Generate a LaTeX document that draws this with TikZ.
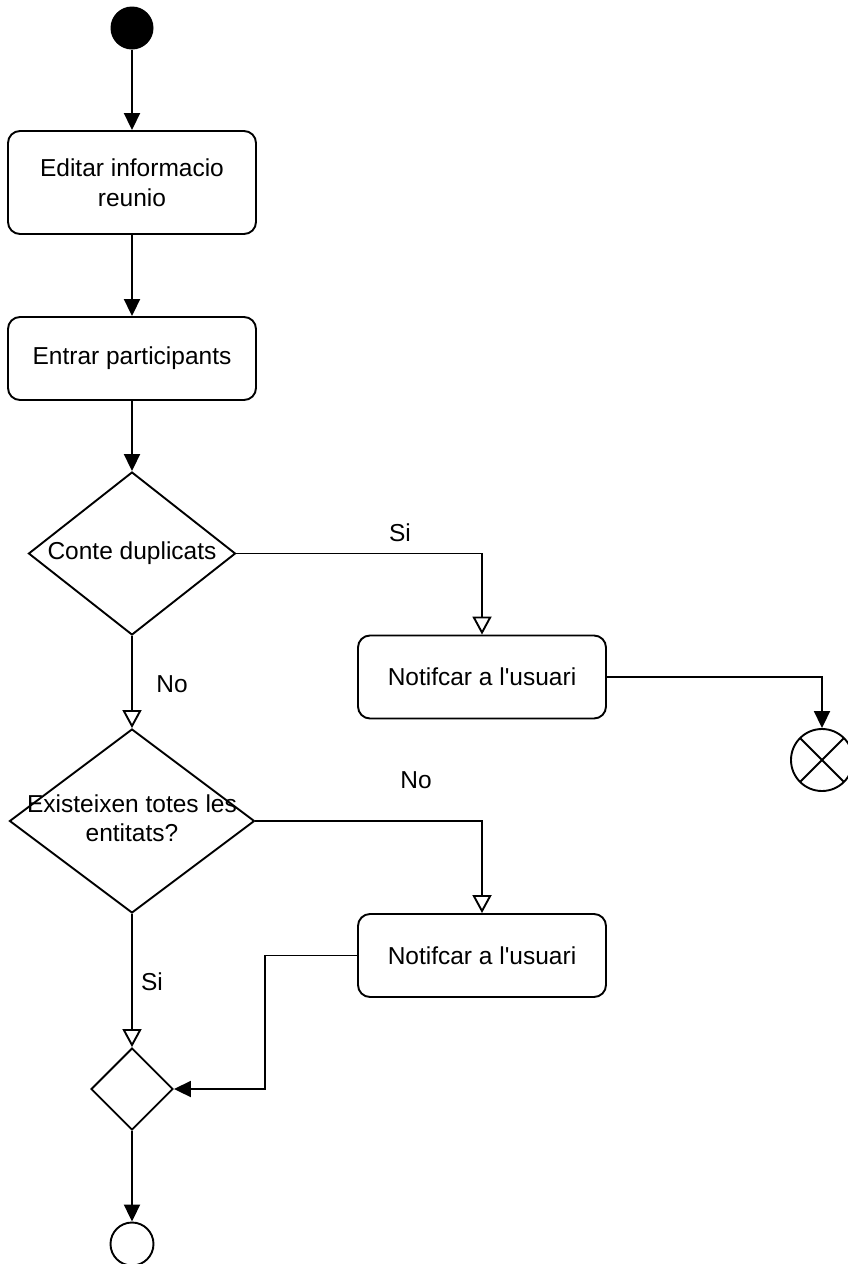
\documentclass[tikz,border=0pt]{standalone}
\usepackage{fontspec}
\setmainfont{Liberation Sans}
\usetikzlibrary{arrows.meta,shapes.geometric}
\begin{document}
\begin{tikzpicture}[x=1pt,y=-1pt,
  every node/.style={font=\fontsize{24.5}{29.5}\selectfont},
  line/.style={line width=1.9pt,draw=black},
  actbox/.style={line, rectangle, rounded corners=12pt, minimum width=248pt, align=center, inner sep=0pt},
  decbox/.style={line, diamond, inner sep=0pt},
  txt/.style={align=center, inner sep=0pt},
  flow/.style={line, -{Triangle[length=17pt,width=16pt]}},
  oflow/.style={line, -{Triangle[open,length=18pt,width=19pt,fill=white]}}
]
\useasboundingbox (0,0) rectangle (847,1264);

\node[circle, fill=black, minimum size=43pt, inner sep=0pt] (start) at (132,28) {};
\node[actbox, minimum height=103pt] (b1) at (132,182.5) {Editar informacio\\reunio};
\node[actbox, minimum height=83pt] (b2) at (132,358.5) {Entrar participants};

\node[decbox, minimum width=207pt, minimum height=163pt] (d1) at (132,553.5) {};
\node[txt] (t1) at (132,553) {Conte duplicats};

\node[actbox, minimum height=83pt] (b3) at (482,677) {Notifcar a l\textquotesingle usuari};

\node[line, circle, minimum size=62pt, inner sep=0pt,
  path picture={\draw[line width=1.9pt] (path picture bounding box.north west) -- (path picture bounding box.south east)
                (path picture bounding box.north east) -- (path picture bounding box.south west);}] (xend) at (822,760) {};

\node[decbox, minimum width=245pt, minimum height=184pt] (d2) at (132,821) {};
\node[txt] (t2) at (132,818) {Existeixen totes les\\entitats?};

\node[actbox, minimum height=83pt] (b4) at (482,955.5) {Notifcar a l\textquotesingle usuari};

\node[decbox, minimum width=82pt, minimum height=82pt] (d3) at (132,1089) {};
\node[line, circle, minimum size=43pt, inner sep=0pt] (fend) at (132,1244) {};

\coordinate (bend) at (265,1020);

\draw[flow] (start) -- (b1);
\draw[flow] (b1) -- (b2);
\draw[flow] (b2.south) -- (d1.north);
\draw[oflow] (d1.east) -| (b3.north);
\draw[flow] (b3.east) -| (xend.north);
\draw[oflow] (d1.south) -- (d2.north);
\draw[oflow] (d2.east) -| (b4.north);
\draw[oflow] (d2.south) -- (d3.north);
\draw[flow] (b4.west) -| (bend) |- (d3.east);
\draw[flow] (d3.south) -- (fend.north);

\node[txt] (lsi1) at (400,533) {Si};
\node[txt] (lno1) at (172,684) {No};
\node[txt] (lno2) at (416,780) {No};
\node[txt] (lsi2) at (152,982) {Si};
\end{tikzpicture}
\end{document}
